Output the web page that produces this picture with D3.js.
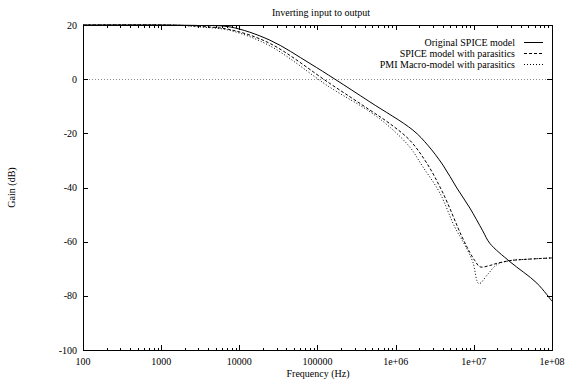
<!DOCTYPE html>
<html>
<head>
<meta charset="utf-8">
<script src="https://cdn.jsdelivr.net/npm/d3@7"></script>
<style>
  body { margin: 0; background: #fff; }
  text { font-family: "Liberation Serif", "DejaVu Serif", serif; font-size: 10px; fill: #000; }
</style>
</head>
<body>
<div id="chart"></div>
<script>
// frequencies (Hz) and gain (dB)
const origFreq = [100, 1000, 2000, 3.1e3, 7.6e3, 2.46e4, 8.0e4, 1.67e5, 4.68e5, 1.66e6, 2.58e6, 4.02e6, 6.07e6, 8.9e6, 1.3e7, 1.6e7, 2.9e7, 6.4e7, 1e8];
const origGain = [20, 20, 19.9, 19.8, 19.3, 14.4, 5.8, 0, -8.4, -18.8, -24.4, -31.7, -40.2, -47.6, -56, -60.6, -67.4, -75.3, -82];

const spiceFreq = [100, 1000, 2000, 3.1e3, 7.6e3, 2.46e4, 1.44e5, 4.68e5, 8.4e5, 1.51e6, 2.5e6, 4.02e6, 7.0e6, 8.9e6, 1.03e7, 1.2e7, 1.6e7, 1.97e7, 2.9e7, 4.76e7, 1e8];
const spiceGain = [20, 20, 19.8, 19.5, 18.3, 13.2, -1.6, -11.4, -16.4, -22.5, -31, -42, -58, -64, -67, -69.3, -68.8, -68, -67, -66.5, -66];

const pmiFreq = [100, 1000, 2000, 3.1e3, 7.6e3, 2.46e4, 1.44e5, 4.68e5, 8.4e5, 1.51e6, 2.23e6, 3.67e6, 5.7e6, 7.7e6, 9.7e6, 1.16e7, 1.51e7, 1.97e7, 2.9e7, 4.76e7, 1e8];
const pmiGain = [20, 20, 19.8, 19.3, 18, 12.3, -3, -12, -17.7, -25, -32.4, -42, -54.6, -61.3, -67.5, -75.5, -72, -68.5, -67, -66.5, -66];

const seriesNames = ["Original SPICE model", "SPICE model with parasitics", "PMI Macro-model with parasitics"];
const xTickValues = [100, 1000, 10000, 100000, 1e6, 1e7, 1e8];
const xTickLabels = ["100", "1000", "10000", "100000", "1e+06", "1e+07", "1e+08"];
const yTickValues = [20, 0, -20, -40, -60, -80, -100];

const W = 565, H = 383;
const m = { left: 83, right: 13, top: 25, bottom: 33 };
const iw = W - m.left - m.right, ih = H - m.top - m.bottom;

const svg = d3.select("#chart").append("svg").attr("width", W).attr("height", H);

const x = d3.scaleLog().domain([100, 1e8]).range([m.left, m.left + iw]);
const y = d3.scaleLinear().domain([-100, 20]).range([m.top + ih, m.top]);

// minor ticks
const minor = [];
for (let d = 100; d < 1e8; d *= 10) for (let k = 2; k < 10; k++) minor.push(d * k);

const g = svg.append("g").attr("shape-rendering", "crispEdges");

// zero line
g.append("line")
  .attr("x1", x(100)).attr("x2", x(1e8))
  .attr("y1", y(0) + 0.5).attr("y2", y(0) + 0.5)
  .attr("stroke", "#888").attr("stroke-dasharray", "1,2");

// ticks bottom and top
[[m.top + ih, -1], [m.top, 1]].forEach(([yy, dir]) => {
  g.selectAll(null).data(xTickValues).enter().append("line")
    .attr("x1", d => Math.round(x(d)) + 0.5).attr("x2", d => Math.round(x(d)) + 0.5)
    .attr("y1", yy).attr("y2", yy + dir * 5)
    .attr("stroke", "#000");
  g.selectAll(null).data(minor).enter().append("line")
    .attr("x1", d => Math.round(x(d)) + 0.5).attr("x2", d => Math.round(x(d)) + 0.5)
    .attr("y1", yy).attr("y2", yy + dir * 2.5)
    .attr("stroke", "#000");
});
// ticks left and right
[[m.left, 1], [m.left + iw, -1]].forEach(([xx, dir]) => {
  g.selectAll(null).data(yTickValues).enter().append("line")
    .attr("y1", d => Math.round(y(d)) + 0.5).attr("y2", d => Math.round(y(d)) + 0.5)
    .attr("x1", xx).attr("x2", xx + dir * 5)
    .attr("stroke", "#000");
});

// frame
g.append("rect")
  .attr("x", m.left + 0.5).attr("y", m.top + 0.5)
  .attr("width", iw).attr("height", ih)
  .attr("fill", "none").attr("stroke", "#000").attr("stroke-width", 1);

// tick labels
svg.selectAll(null).data(xTickValues).enter().append("text")
  .attr("x", d => x(d)).attr("y", m.top + ih + 15)
  .attr("text-anchor", "middle")
  .text((d, i) => xTickLabels[i]);
svg.selectAll(null).data(yTickValues).enter().append("text")
  .attr("x", m.left - 6).attr("y", d => y(d) + 3.5)
  .attr("text-anchor", "end")
  .text(d => d);

// titles
svg.append("text").attr("x", 321).attr("y", 16).attr("text-anchor", "middle").text("Inverting input to output");
svg.append("text").attr("x", 318).attr("y", 377).attr("text-anchor", "middle").text("Frequency (Hz)");
svg.append("text").attr("transform", "translate(15," + (m.top + ih / 2) + ") rotate(-90)")
  .attr("text-anchor", "middle").text("Gain (dB)");

// curves
const series = [
  { f: origFreq, v: origGain, dash: null },
  { f: spiceFreq, v: spiceGain, dash: "3,2" },
  { f: pmiFreq, v: pmiGain, dash: "1,2" }
];
const line = d3.line().x(d => x(d[0])).y(d => y(d[1])).curve(d3.curveCatmullRom.alpha(0.5));
series.forEach(s => {
  svg.append("path")
    .datum(s.f.map((f, i) => [f, s.v[i]]))
    .attr("d", line)
    .attr("fill", "none").attr("stroke", "#000").attr("stroke-width", 1)
    .attr("stroke-dasharray", s.dash);
});

// legend
const leg = svg.append("g");
seriesNames.forEach((name, i) => {
  const yy = 42 + i * 11;
  leg.append("text").attr("x", 515).attr("y", yy + 3.5).attr("text-anchor", "end").text(name);
  leg.append("line").attr("x1", 524).attr("x2", 543).attr("y1", yy + 0.5).attr("y2", yy + 0.5)
    .attr("stroke", "#000").attr("stroke-width", 1).attr("stroke-dasharray", series[i].dash);
});
</script>
</body>
</html>
